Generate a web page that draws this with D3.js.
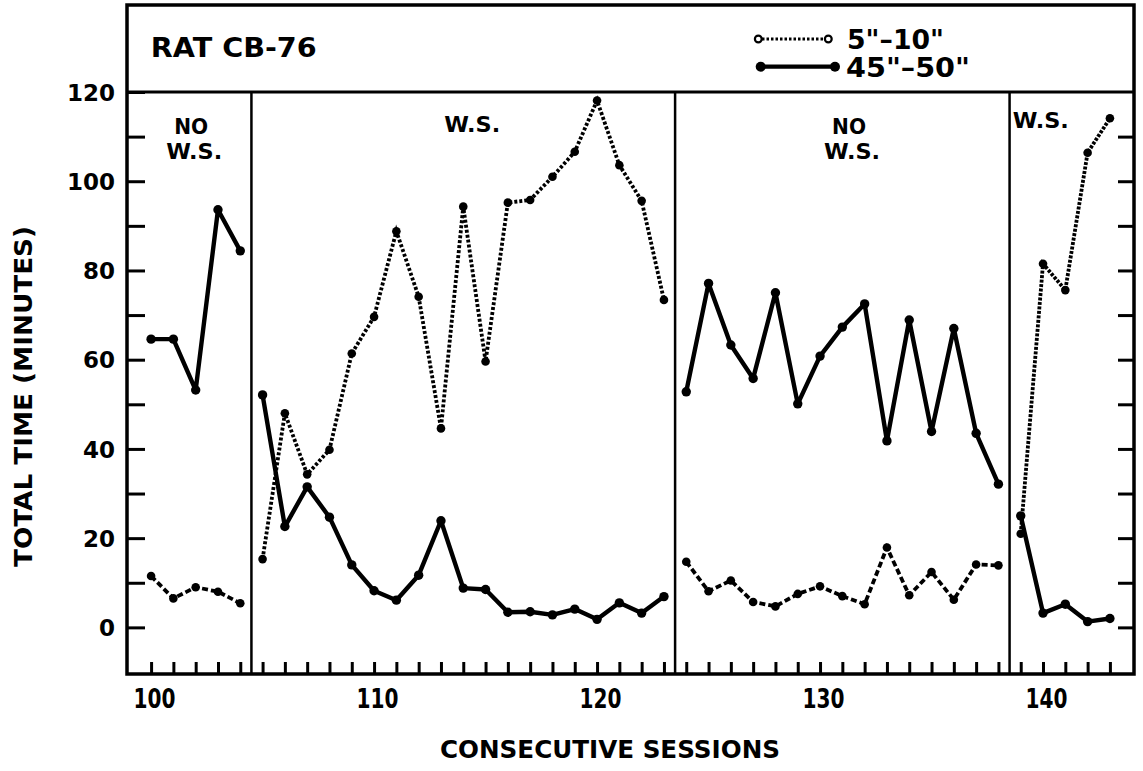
<!DOCTYPE html>
<html>
<head>
  <meta charset="utf-8">
  <script src="https://cdn.jsdelivr.net/npm/d3@7"></script>
  <style>
    body { margin: 0; background: #fff; }
    text { font-family: "DejaVu Sans", sans-serif; font-weight: bold; fill: #000; }
  </style>
</head>
<body>
<script>
  // consecutive sessions 100..143
  var sessions = d3.range(100, 144);
  // 5"-10" (dotted series), minutes
  var shortDelay = [11.5, 6.5, 9.0, 8.0, 5.4,
    15.3, 48.0, 34.3, 39.8, 61.4, 69.6, 88.8, 74.1, 44.6, 94.3, 59.6, 95.2, 95.8, 101, 106.6, 118.1, 103.6, 95.6, 73.4,
    14.7, 8.1, 10.5, 5.7, 4.7, 7.5, 9.2, 7.0, 5.2, 17.9, 7.2, 12.4, 6.2, 14.1, 13.9,
    21, 81.5, 75.6, 106.4, 114.1];
  // 45"-50" (solid series), minutes
  var longDelay = [64.6, 64.6, 53.2, 93.6, 84.4,
    52.1, 22.6, 31.5, 24.7, 14.0, 8.2, 6.1, 11.7, 23.9, 8.8, 8.5, 3.4, 3.5, 2.8, 4.1, 1.8, 5.5, 3.2, 6.9,
    52.8, 77.1, 63.3, 55.8, 75.0, 50.1, 60.8, 67.3, 72.5, 41.8, 68.9, 43.9, 67.0, 43.5, 32.1,
    25, 3.2, 5.2, 1.3, 2.0];
  // experimental phases
  var phaseStart = [100, 105, 124, 139];
  var phaseEnd = [104, 123, 138, 143];
  var phaseLabels = [["NO", "W.S."], ["W.S."], ["NO", "W.S."], ["W.S."]];
  var yTicks = d3.range(0, 121, 10);

  var svg = d3.select("body").append("svg").attr("width", 1143).attr("height", 771);

  var x = d3.scaleLinear().domain([98.92, 144.08]).range([127, 1134]);
  var y = d3.scaleLinear().domain([-10.45, 120]).range([674, 92]);

  // axes: ticks point inward
  var yAx = svg.append("g").attr("transform", "translate(127,0)")
    .call(d3.axisLeft(y).tickValues(yTicks).tickSizeInner(-18).tickSizeOuter(0).tickPadding(12)
      .tickFormat(function (d) { return d % 20 === 0 ? d : ""; }));
  yAx.selectAll("text").style("font-size", "23px").attr("dy", "0.36em");

  svg.append("g").attr("transform", "translate(1134,0)")
    .call(d3.axisRight(y).tickValues(yTicks.slice(0, -1)).tickSizeInner(-16).tickSizeOuter(0).tickFormat(""));

  var xAx = svg.append("g").attr("transform", "translate(0,674)")
    .call(d3.axisBottom(x).tickValues(sessions).tickSizeInner(-12).tickSizeOuter(0).tickPadding(16)
      .tickFormat(function (d) { return d % 10 === 0 ? d : ""; }));
  xAx.selectAll("text").style("font-size", "26px")
    .filter(function (d) { return d % 10 === 0; })
    .attr("textLength", 42).attr("lengthAdjust", "spacingAndGlyphs").attr("dx", 3);

  svg.selectAll(".domain").remove();
  svg.selectAll(".tick line").attr("stroke", "#000").attr("stroke-width", 3);

  // frame, header rule and phase dividers
  svg.append("rect").attr("x", 127).attr("y", 5).attr("width", 1007).attr("height", 669)
    .attr("fill", "none").attr("stroke", "#000").attr("stroke-width", 3.5);
  svg.append("line").attr("x1", 127).attr("x2", 1134).attr("y1", y(120)).attr("y2", y(120))
    .attr("stroke", "#000").attr("stroke-width", 3);
  phaseStart.slice(1).forEach(function (s) {
    svg.append("line").attr("x1", x(s - 0.5)).attr("x2", x(s - 0.5)).attr("y1", y(120)).attr("y2", 674)
      .attr("stroke", "#000").attr("stroke-width", 2.5);
  });

  // data by phase (the dotted pen varies a little between phases)
  var dash = ["6,3", "3,2", "6,3", "3,1.5"];
  var line = d3.line().x(function (d) { return x(d.s); }).y(function (d) { return y(d.v); });
  phaseStart.forEach(function (start, i) {
    var idx = d3.range(start - 100, phaseEnd[i] - 100 + 1);
    var sPts = idx.map(function (k) { return { s: sessions[k], v: shortDelay[k] }; });
    var lPts = idx.map(function (k) { return { s: sessions[k], v: longDelay[k] }; });

    svg.append("path").datum(sPts).attr("d", line).attr("fill", "none")
      .attr("stroke", "#000").attr("stroke-width", 3.8).attr("stroke-dasharray", dash[i]);
    svg.append("path").datum(lPts).attr("d", line).attr("fill", "none")
      .attr("stroke", "#000").attr("stroke-width", 4.4).attr("stroke-linejoin", "round");

    svg.selectAll(null).data(sPts).enter().append("circle")
      .attr("cx", function (d) { return x(d.s); }).attr("cy", function (d) { return y(d.v); })
      .attr("r", 4.3).attr("fill", "#000");
    svg.selectAll(null).data(lPts).enter().append("circle")
      .attr("cx", function (d) { return x(d.s); }).attr("cy", function (d) { return y(d.v); })
      .attr("r", 4.7).attr("fill", "#000");
  });

  // phase labels
  var labelAt = [[101.8, 110.5], [114.4, 111], [131.3, 110.5], [139.9, 112]];
  phaseLabels.forEach(function (lines, i) {
    lines.forEach(function (t, j) {
      svg.append("text").attr("x", x(labelAt[i][0]) + (j ? 3 : 0)).attr("y", y(labelAt[i][1]) + j * 25)
        .attr("text-anchor", "middle").style("font-size", "21px")
        .attr("textLength", t === "NO" ? 34 : 56).attr("lengthAdjust", "spacingAndGlyphs").text(t);
    });
  });

  // header
  svg.append("text").attr("x", 150.7).attr("y", 56.5).style("font-size", "27px")
    .attr("textLength", 166).attr("lengthAdjust", "spacingAndGlyphs").text("RAT CB-76");

  // legend
  var lg = svg.append("g");
  lg.append("line").attr("x1", 762).attr("x2", 825).attr("y1", 39).attr("y2", 39)
    .attr("stroke", "#000").attr("stroke-width", 3).attr("stroke-dasharray", "2.5,2");
  lg.selectAll(null).data([758.3, 828.3]).enter().append("circle")
    .attr("cx", function (d) { return d; }).attr("cy", 39).attr("r", 3.4)
    .attr("fill", "#fff").attr("stroke", "#000").attr("stroke-width", 2.2);
  lg.append("line").attr("x1", 760.7).attr("x2", 835).attr("y1", 66.7).attr("y2", 66.7)
    .attr("stroke", "#000").attr("stroke-width", 4.2);
  lg.selectAll(null).data([760.7, 835]).enter().append("circle")
    .attr("cx", function (d) { return d; }).attr("cy", 66.7).attr("r", 5).attr("fill", "#000");
  lg.append("text").attr("x", 847).attr("y", 48.5).style("font-size", "26px")
    .attr("textLength", 97).attr("lengthAdjust", "spacingAndGlyphs").text("5\"\u201310\"");
  lg.append("text").attr("x", 846).attr("y", 76.5).style("font-size", "26px")
    .attr("textLength", 124).attr("lengthAdjust", "spacingAndGlyphs").text("45\"\u201350\"");

  // axis titles
  svg.append("text").attr("transform", "translate(32,396.5) rotate(-90)")
    .attr("text-anchor", "middle").style("font-size", "25px")
    .attr("textLength", 341).attr("lengthAdjust", "spacingAndGlyphs").text("TOTAL TIME (MINUTES)");
  svg.append("text").attr("x", 610).attr("y", 758).attr("text-anchor", "middle").style("font-size", "25px")
    .attr("textLength", 340).attr("lengthAdjust", "spacingAndGlyphs").text("CONSECUTIVE SESSIONS");
</script>
</body>
</html>
